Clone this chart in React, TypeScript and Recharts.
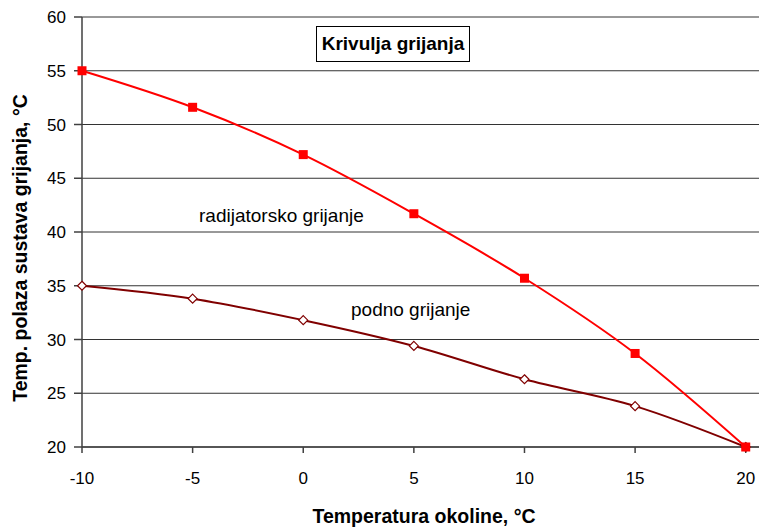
import React from 'react';
import { LineChart, Line, XAxis, YAxis, CartesianGrid } from 'recharts';

const outdoorTemps = [-10, -5, 0, 5, 10, 15, 20];
const radiatorTemps = [55, 51.6, 47.2, 41.7, 35.7, 28.7, 20];
const floorTemps = [35, 33.8, 31.8, 29.4, 26.3, 23.8, 20];
const xTicks = [-10, -5, 0, 5, 10, 15, 20];
const yTicks = [20, 25, 30, 35, 40, 45, 50, 55, 60];

const data = outdoorTemps.map((t, i) => ({ t, radiator: radiatorTemps[i], floor: floorTemps[i] }));

const font = '"Liberation Sans", Arial, sans-serif';
const tickStyle = { fontSize: 17, fill: '#000', fontFamily: font };

const Square = (p: any) => (
  <rect key={`sq-${p.index}`} x={p.cx - 4.5} y={p.cy - 4.5} width={9} height={9} fill="#ff0000" />
);

const Diamond = (p: any) => (
  <path
    key={`dm-${p.index}`}
    d={`M${p.cx},${p.cy - 4.5} L${p.cx + 4.5},${p.cy} L${p.cx},${p.cy + 4.5} L${p.cx - 4.5},${p.cy} Z`}
    fill="#fff"
    stroke="#800000"
    strokeWidth={1.2}
  />
);

export default function App() {
  return (
    <div style={{ position: 'absolute', left: 0, top: 0, width: 759, height: 531, background: '#fff', fontFamily: font, overflow: 'hidden' }}>
      <LineChart width={759} height={531} data={data} margin={{ top: 17, right: 0, left: 0, bottom: 0 }}>
        <CartesianGrid vertical={false} stroke="#333" />
        <XAxis
          dataKey="t"
          type="number"
          domain={[-10, 20.6]}
          ticks={xTicks}
          height={84}
          tick={tickStyle}
          tickSize={6}
          tickMargin={19}
          stroke="#404040"
          strokeWidth={1.5}
        />
        <YAxis
          domain={[20, 60]}
          ticks={yTicks}
          width={82}
          tick={tickStyle}
          tickSize={8}
          tickMargin={8}
          stroke="#404040"
          strokeWidth={1.5}
        />
        <Line
          dataKey="floor"
          type="monotone"
          stroke="#800000"
          strokeWidth={2}
          dot={Diamond}
          activeDot={false}
          isAnimationActive={false}
        />
        <Line
          dataKey="radiator"
          type="monotone"
          stroke="#ff0000"
          strokeWidth={2}
          dot={Square}
          activeDot={false}
          isAnimationActive={false}
        />
      </LineChart>
      <div style={{ position: 'absolute', left: 316, top: 26, width: 154, height: 36, border: '1px solid #000', background: '#fff', fontWeight: 'bold', fontSize: 19, display: 'flex', alignItems: 'center', justifyContent: 'center', boxSizing: 'border-box' }}>
        Krivulja grijanja
      </div>
      <div style={{ position: 'absolute', left: 199, top: 205, fontSize: 19 }}>radijatorsko grijanje</div>
      <div style={{ position: 'absolute', left: 351, top: 299, fontSize: 19 }}>podno grijanje</div>
      <div style={{ position: 'absolute', left: 424, top: 516, transform: 'translate(-50%, -50%)', whiteSpace: 'nowrap', fontWeight: 'bold', fontSize: 19.5 }}>
        Temperatura okoline, °C
      </div>
      <div style={{ position: 'absolute', left: 20, top: 248, transform: 'translate(-50%, -50%) rotate(-90deg)', whiteSpace: 'nowrap', fontWeight: 'bold', fontSize: 19.5 }}>
        Temp. polaza sustava grijanja, °C
      </div>
    </div>
  );
}
